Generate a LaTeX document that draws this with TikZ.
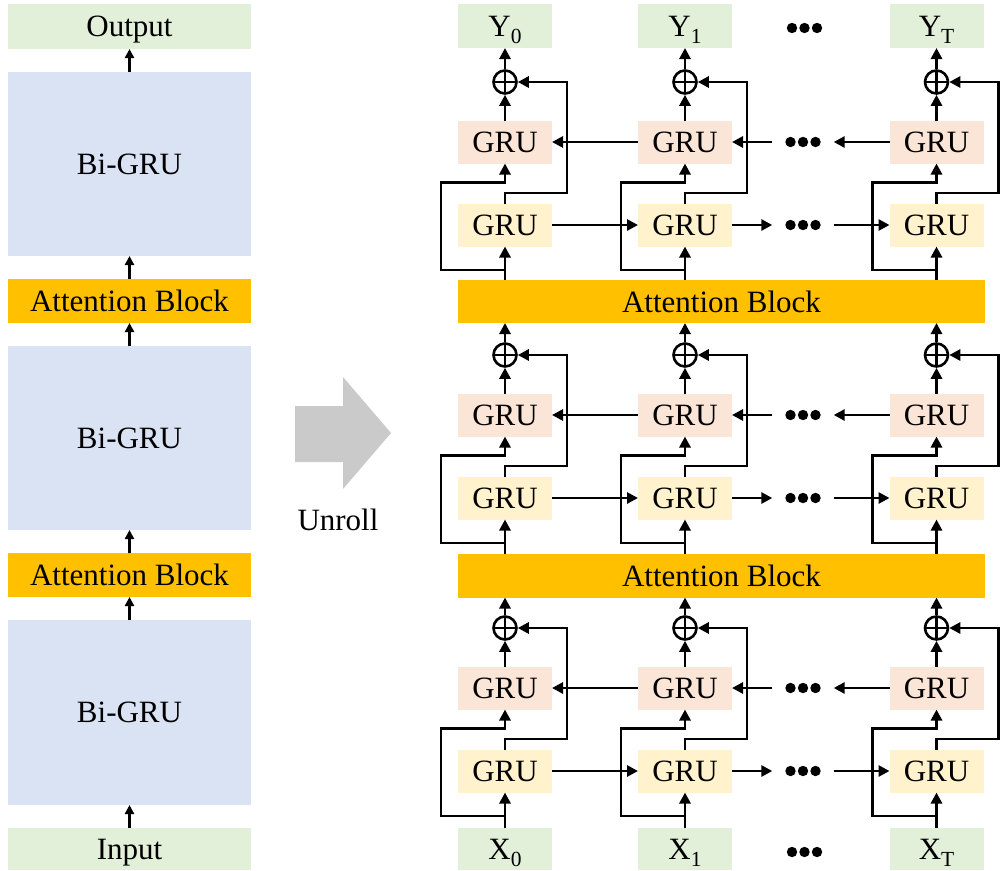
\documentclass[tikz,border=0pt]{standalone}
\usepackage{fontspec}
\setmainfont{Liberation Serif}
\usetikzlibrary{arrows.meta,calc}

\definecolor{iogreen}{HTML}{E2F0D9}
\definecolor{bgblue}{HTML}{DAE3F3}
\definecolor{attnorange}{HTML}{FFC000}
\definecolor{bwdpink}{HTML}{FBE5D6}
\definecolor{fwdyellow}{HTML}{FFF2CC}
\definecolor{arrowgray}{HTML}{CACACA}

% lowered subscript for the X/Y labels
\newcommand\lowsub[1]{\raisebox{-7pt}{\fontsize{21.5}{22}\selectfont #1}}

\begin{document}
\begin{tikzpicture}[x=1pt,y=-1pt,
  font=\fontsize{31}{37}\selectfont,
  box/.style={rectangle, inner sep=0pt, outer sep=0pt, draw=none, text depth=0pt},
  io/.style={box, fill=iogreen},
  bigru/.style={box, fill=bgblue, minimum width=243pt, minimum height=184pt},
  attn/.style={box, fill=attnorange},
  cell/.style={box, minimum width=94pt, minimum height=43pt},
  bwd/.style={cell, fill=bwdpink},
  fwd/.style={cell, fill=fwdyellow},
  sum/.style={circle, draw, line width=2.6pt, minimum size=23pt, inner sep=0pt,
    path picture={\draw[line width=2.6pt]
      (path picture bounding box.north) -- (path picture bounding box.south)
      (path picture bounding box.west) -- (path picture bounding box.east);}},
  dotsbox/.style={rectangle, inner sep=0pt, minimum width=61pt, minimum height=12pt,
    path picture={\foreach \i in {-1,0,1}
      \fill ([xshift=\i*12.5pt]path picture bounding box.center) circle (5.2pt);}},
  link/.style={line width=2.9pt, -{Triangle[length=11pt,width=11pt]}},
  smalllink/.style={line width=2.5pt, -{Triangle[length=9pt,width=9pt]}}
]
\useasboundingbox (0,0) rectangle (1001,870);

% ---------- stacked model (left) ----------
\node[io, minimum width=243pt, minimum height=45pt] (out) at (129.5,26.5) {Output};
\node[bigru] (bg1) at (129.5,164) {Bi-GRU};
\node[attn, minimum width=243pt, minimum height=44pt] (la1) at (129.5,301) {Attention Block};
\node[bigru] (bg2) at (129.5,438) {Bi-GRU};
\node[attn, minimum width=243pt, minimum height=44pt] (la2) at (129.5,575) {Attention Block};
\node[bigru, minimum height=185pt] (bg3) at (129.5,712.5) {Bi-GRU};
\node[io, minimum width=243pt, minimum height=42pt] (in) at (129.5,849) {Input};

\draw[smalllink] (in) -- (bg3);
\draw[smalllink] (bg3) -- (la2);
\draw[smalllink] (la2) -- (bg2);
\draw[smalllink] (bg2) -- (la1);
\draw[smalllink] (la1) -- (bg1);
\draw[smalllink] (bg1) -- (out);

% ---------- unroll arrow ----------
\fill[arrowgray] (295,406) -- (343,406) -- (343,377) -- (391,433)
  -- (343,489) -- (343,462) -- (295,462) -- cycle;
\node[box] (unroll) at (338,520) {Unroll};

% ---------- unrolled model (right) ----------
\node[io, minimum width=94pt, minimum height=44pt] (Y0) at (505,26) {Y\lowsub{0}};
\node[io, minimum width=94pt, minimum height=44pt] (Y1) at (685,26) {Y\lowsub{1}};
\node[io, minimum width=94pt, minimum height=44pt] (YT) at (936.5,26) {Y\lowsub{T}};
\node[dotsbox] (ydots) at (804.5,28) {};

\node[io, minimum width=94pt, minimum height=42pt] (X0) at (505,849) {X\lowsub{0}};
\node[io, minimum width=94pt, minimum height=42pt] (X1) at (685,849) {X\lowsub{1}};
\node[io, minimum width=94pt, minimum height=42pt] (XT) at (936.5,849) {X\lowsub{T}};
\node[dotsbox] (xdots) at (804.5,852) {};

\node[attn, minimum width=527pt, minimum height=43pt] (att1) at (721.5,301.5) {Attention Block};
\node[attn, minimum width=527pt, minimum height=44pt] (att2) at (721.5,575.5) {Attention Block};

\foreach \blk/\cy/\up/\lo in {1/82/Y\kk/att1, 2/355/att1/att2, 3/628/att2/X\kk} {
  \foreach \kk/\xx in {0/505, 1/685, T/936.5} {
    \node[sum] (s\blk\kk) at (\xx,\cy) {};
    \node[bwd] (p\blk\kk) at (\xx,\cy+60) {GRU};
    \node[fwd] (f\blk\kk) at (\xx,\cy+143) {GRU};
    % input into the forward cell
    \draw[link] (f\blk\kk.south |- \lo.north) -- (f\blk\kk.south);
    % input bypassing to the backward cell
    \draw[link] ([yshift=-23.5pt]f\blk\kk.south) -| ([xshift=-64pt,yshift=-19pt]p\blk\kk.south)
      -- ([yshift=-19pt]p\blk\kk.south) -- (p\blk\kk.south);
    % forward output to the sum
    \draw[link] (f\blk\kk.north) -- ([yshift=10.5pt]f\blk\kk.north)
      -| ([xshift=62pt]s\blk\kk.center) -- (s\blk\kk.east);
    % backward output to the sum
    \draw[link] (p\blk\kk) -- (s\blk\kk);
    % sum to the next layer
    \draw[link] (s\blk\kk.north) -- (s\blk\kk.north |- \up.south);
  }
  \node[dotsbox] (dp\blk) at (803,\cy+60) {};
  \node[dotsbox] (df\blk) at (803,\cy+143) {};
  % backward recurrence (right to left)
  \draw[link] (p\blk T) -- (dp\blk);
  \draw[link] (dp\blk) -- (p\blk 1);
  \draw[link] (p\blk 1) -- (p\blk 0);
  % forward recurrence (left to right)
  \draw[link] (f\blk 0) -- (f\blk 1);
  \draw[link] (f\blk 1) -- (df\blk);
  \draw[link] (df\blk) -- (f\blk T);
}
\end{tikzpicture}
\end{document}
